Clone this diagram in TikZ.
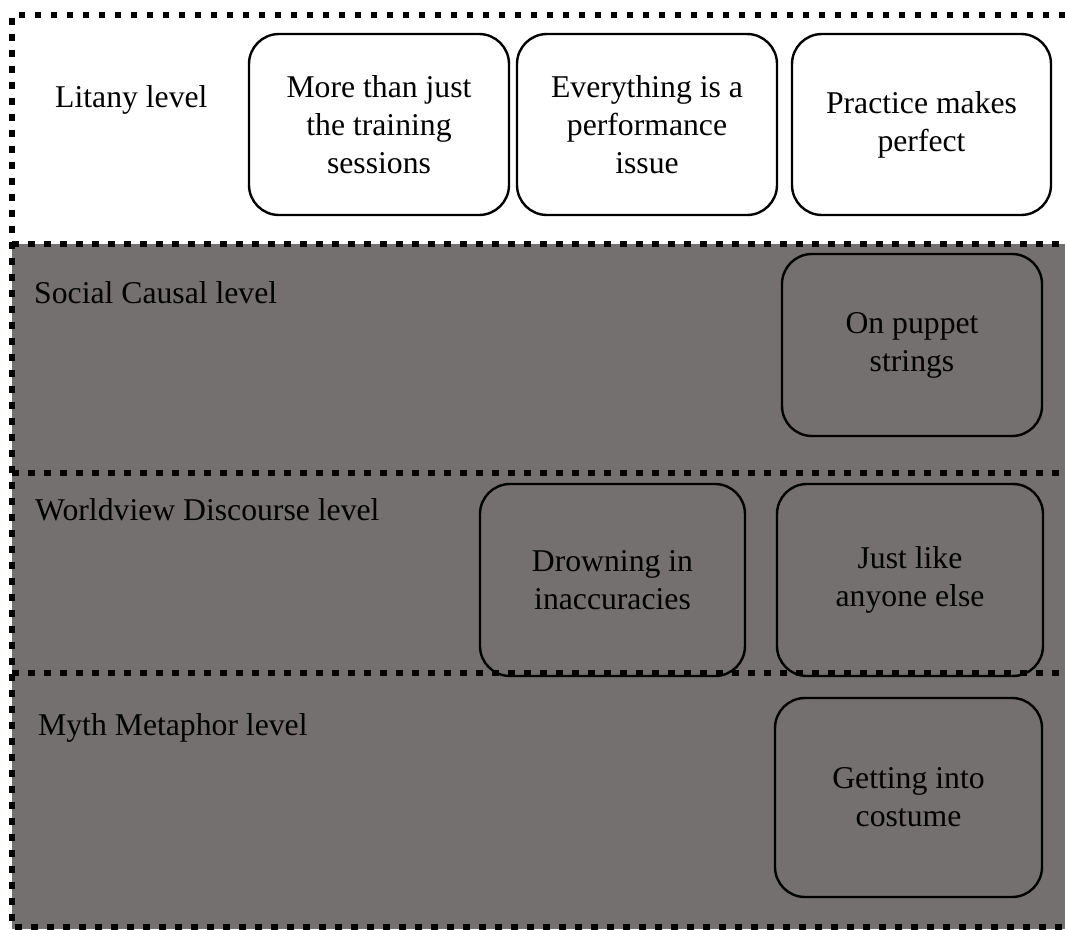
\documentclass[tikz,border=0pt]{standalone}
\usepackage{fontspec}
\setmainfont{Liberation Serif}
\begin{document}
\begin{tikzpicture}[x=1pt,y=-1pt,
  band/.style={line width=6.5pt,dash pattern=on 6.5pt off 9.5pt},
  idea/.style={draw=black,line width=2.4pt,rounded corners=30pt,align=center,
    inner sep=0pt,font=\fontsize{31.7}{38}\selectfont},
  levellabel/.style={anchor=base west,inner sep=0pt,font=\fontsize{31.7}{38}\selectfont}]
\useasboundingbox (0,0) rectangle (1065,929);
\definecolor{bandgray}{RGB}{116,112,111}
% shaded lower levels
\fill[bandgray] (12,244) rectangle (1065,929);
% dashed outline and level separators
\coordinate (tl) at (12,15);
\coordinate (tr) at (1065,15);
\coordinate (bl) at (12,927);
\coordinate (br) at (1065,927);
\coordinate (s1l) at (12,244);  \coordinate (s1r) at (1065,244);
\coordinate (s2l) at (12,473);  \coordinate (s2r) at (1065,473);
\coordinate (s3l) at (12,673);  \coordinate (s3r) at (1065,673);
\draw[band] (tr) -- (tl) -- (bl) -- (br);
\draw[band] (s1l) -- (s1r);
\draw[band] (s2l) -- (s2r);
\draw[band] (s3l) -- (s3r);
% level labels
\node[levellabel] (litany) at (55,107) {Litany level};
\node[levellabel] (social) at (34,303) {Social Causal level};
\node[levellabel] (world) at (35,520) {Worldview Discourse level};
\node[levellabel] (myth) at (38,735) {Myth Metaphor level};
% litany level
\node[idea,fill=white,minimum width=260,minimum height=181] (l1) at (379,124.5) {More than just\\the training\\sessions};
\node[idea,fill=white,minimum width=260,minimum height=181] (l2) at (647,124.5) {Everything is a\\performance\\issue};
\node[idea,fill=white,minimum width=259,minimum height=181] (l3) at (921.5,124.5) {Practice makes\\perfect};
% social causal level
\node[idea,minimum width=260,minimum height=182] (c1) at (912,345) {On puppet\\strings};
% worldview level
\node[idea,minimum width=265,minimum height=192] (w1) at (612.5,580) {Drowning in\\inaccuracies};
\node[idea,minimum width=266,minimum height=192] (w2) at (910,580) {Just like\\anyone else};
% myth metaphor level
\node[idea,minimum width=267,minimum height=199] (m1) at (908.5,797.5) {Getting into\\costume};
\end{tikzpicture}
\end{document}
